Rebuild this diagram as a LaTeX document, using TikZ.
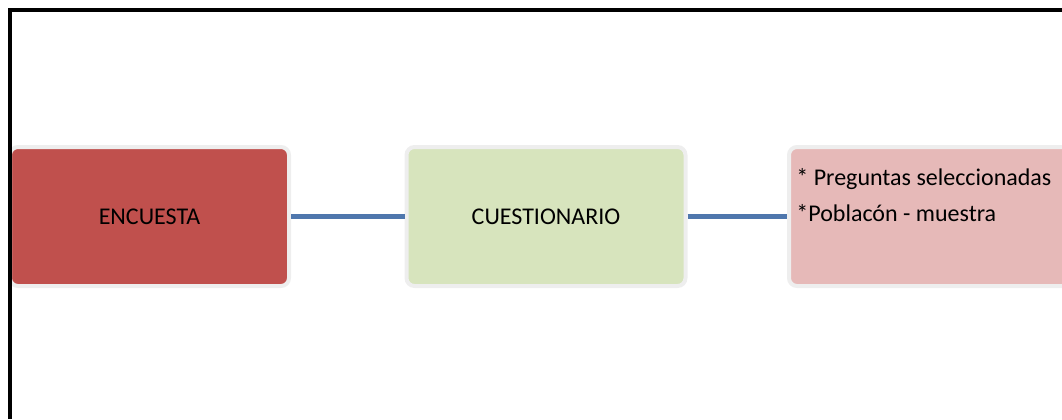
\documentclass[tikz,border=0pt]{standalone}
\usepackage{fontspec}
\setmainfont{Carlito}
\usetikzlibrary{calc}
\usetikzlibrary{positioning}
\definecolor{ladrillo}{RGB}{192, 80, 77}
\definecolor{oliva}{RGB}{215, 228, 189}
\definecolor{rosado}{RGB}{230, 185, 184}
\definecolor{acero}{RGB}{79, 119, 173}
\definecolor{borde}{RGB}{238, 238, 238}

\begin{document}
\begin{tikzpicture}[x=0.5pt, y=-0.5pt,
        caja/.style={rounded corners=4pt, draw=borde, line width=2pt, minimum width=139.5pt,
                     minimum height=69.5pt, inner sep=0pt, font=\fontsize{12}{14}\selectfont},
        enlace/.style={acero, line width=2.5pt}]
            \useasboundingbox (0,0) rectangle (1062,419);
            \node[caja, fill=ladrillo] (encuesta)     at ( 149.5, 216.5) {ENCUESTA};
            \node[caja, fill=oliva]    (cuestionario) at ( 546.0, 216.5) {CUESTIONARIO};
            \node[caja, fill=rosado, minimum width=143pt] (muestra) at ( 932.0, 216.5) {};
            \node[anchor=base west, inner sep=0pt, align=left, font=\fontsize{12}{18}\selectfont]
                 (muestratxt) at ( 796.0, 221.0) {* Preguntas seleccionadas\\*Poblacón - muestra};
            \draw[enlace] (encuesta) -- (cuestionario);
            \draw[enlace] (cuestionario) -- (muestra);
            \draw[line width=2pt] (10,419) -- (10,9.5) -- (1062,9.5);
\end{tikzpicture}
\end{document}
